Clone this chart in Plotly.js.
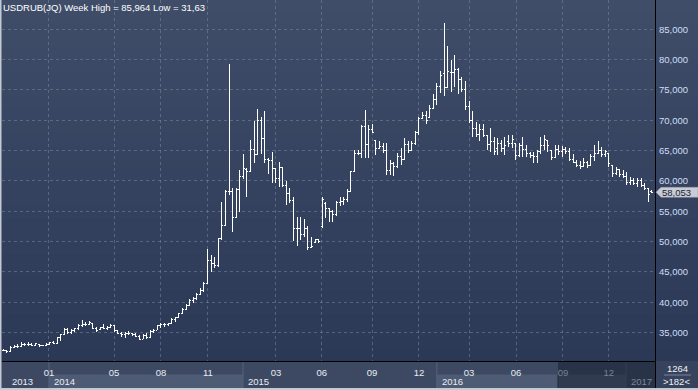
<!DOCTYPE html>
<html><head><meta charset="utf-8">
<script src="https://cdn.plot.ly/plotly-3.0.1.min.js"></script>
<style>html,body{margin:0;padding:0;background:#3d4965;overflow:hidden}#chart{width:698px;height:390px}
#chart .ohlc path, #chart .ohlclayer path{shape-rendering:crispEdges}
#chart .gridlayer path{shape-rendering:crispEdges}</style>
</head><body><div id="chart"></div>
<script>
// ---- data (weekly bars) ----
const openP = [32.05,32.00,31.85,32.60,32.70,32.75,33.00,32.95,33.10,32.90,33.10,32.80,32.90,33.05,33.40,33.20,34.20,34.60,35.50,35.00,
35.40,35.60,36.20,36.40,36.30,36.50,35.70,35.45,35.85,35.70,35.90,36.10,35.40,34.90,34.60,34.80,34.90,34.60,34.30,33.90,
34.50,34.10,35.20,35.40,36.10,36.30,36.40,36.50,37.20,37.50,38.10,38.80,39.50,40.20,40.60,41.30,42.00,43.10,46.80,46.30,
46.00,50.50,52.70,58.30,58.20,54.00,58.50,60.70,61.80,61.60,65.20,64.40,70.00,67.00,63.60,63.30,62.00,60.40,62.20,59.20,
58.00,56.70,52.20,52.20,51.10,52.20,49.00,49.80,50.30,52.50,56.30,55.40,55.00,54.40,56.50,56.60,56.90,58.30,61.60,64.60,
64.50,68.90,66.00,68.40,66.60,65.30,65.60,65.00,61.70,62.80,62.30,64.00,63.60,66.00,65.00,66.20,67.90,70.30,70.80,70.40,
72.00,73.50,75.60,77.70,75.40,77.90,77.80,78.40,76.80,75.10,72.30,70.00,68.60,67.70,68.40,67.50,66.00,66.50,65.40,66.20,
65.30,66.50,66.10,66.10,64.20,65.80,65.10,64.50,64.20,64.00,64.90,65.90,66.70,65.00,63.90,65.20,64.90,65.10,64.80,63.60,
63.10,62.60,62.40,63.00,62.50,64.00,64.60,65.00,64.40,64.50,62.60,61.30,61.80,61.10,60.80,59.80,60.10,59.60,60.00,59.30,
58.80,58.30];
const highP = [32.20,32.10,32.77,32.94,33.05,33.49,33.32,33.49,33.21,33.32,33.15,32.94,33.21,33.49,33.60,34.31,34.75,35.69,35.69,35.52,
35.69,36.40,37.06,36.79,36.95,36.51,35.96,35.96,36.35,36.07,36.35,36.24,35.41,35.14,35.14,35.25,34.97,34.86,34.59,34.70,
34.86,35.41,35.52,36.24,36.62,36.51,36.62,37.34,37.61,38.27,38.99,39.70,40.47,40.80,41.57,42.29,43.30,48.80,47.80,47.50,
50.60,56.60,58.50,79.20,58.80,58.80,61.80,64.50,62.10,66.70,69.90,71.90,70.60,71.50,63.70,64.70,62.10,63.10,62.30,60.00,
58.90,57.40,54.10,54.10,53.70,52.50,50.80,50.50,50.50,57.40,56.60,55.50,55.20,56.70,57.30,57.40,58.60,61.70,65.10,65.10,
69.30,71.70,69.30,69.40,66.80,66.60,66.20,66.20,63.50,63.10,64.60,65.50,67.10,66.60,66.60,68.30,70.50,71.30,71.50,72.50,
74.30,76.10,78.10,85.964,82.20,79.90,80.80,78.60,77.20,76.40,73.10,71.50,69.70,69.40,69.40,67.60,68.70,67.30,67.00,66.70,
67.30,67.60,67.50,66.20,66.20,67.30,65.90,64.80,64.80,65.10,67.30,67.60,66.80,65.10,65.90,65.90,65.75,65.60,65.40,64.50,
63.40,63.20,63.70,63.20,64.50,65.90,66.50,65.60,65.10,64.54,62.60,62.30,61.80,61.80,61.50,60.70,60.40,60.40,60.40,59.60,
58.80,58.50];
const lowP = [31.90,31.63,31.80,32.39,32.50,32.66,32.83,32.83,32.83,32.88,32.66,32.75,32.85,32.94,33.10,33.10,33.65,34.59,34.75,34.70,
35.14,35.41,35.96,36.07,36.24,35.52,35.14,35.41,35.52,35.41,35.69,35.14,34.75,34.31,34.04,34.59,34.42,34.20,33.76,33.87,
33.87,34.05,34.86,35.35,35.69,35.85,36.07,36.45,36.79,37.34,38.05,38.70,39.37,39.92,40.40,41.19,41.70,43.00,45.00,45.60,
45.80,50.20,52.60,57.70,51.60,53.80,54.90,60.30,57.40,61.50,63.00,64.30,64.40,63.00,61.20,59.60,59.60,59.00,59.00,56.10,
56.30,50.10,49.30,50.25,50.80,48.60,48.87,49.70,49.70,52.20,53.80,53.30,53.30,54.20,55.90,56.00,56.60,58.10,61.40,64.20,
63.80,63.80,63.80,67.90,64.30,65.20,64.60,61.00,61.00,60.75,62.10,62.70,63.50,64.60,64.90,65.97,67.60,70.20,69.40,70.30,
71.90,72.50,74.50,74.00,75.30,74.70,75.50,74.40,74.70,71.70,69.50,67.20,67.30,66.50,67.20,65.15,64.80,64.30,64.30,64.80,
64.30,65.60,65.40,63.40,64.00,64.00,64.00,63.70,62.90,62.90,64.50,65.10,64.80,63.40,63.70,64.30,64.00,64.50,63.20,62.90,
62.30,61.90,62.30,62.10,62.40,63.20,64.50,64.00,64.00,62.34,60.70,61.00,60.70,60.40,59.30,59.30,59.30,59.05,59.05,58.50,
56.57,57.95];
const closeP = [32.00,31.85,32.60,32.70,32.75,33.00,32.95,33.10,32.90,33.15,32.80,32.90,33.05,33.40,33.20,34.20,34.60,35.50,35.00,35.40,
35.60,36.20,36.40,36.30,36.60,35.70,35.40,35.85,35.70,35.90,36.10,35.40,34.90,34.60,34.80,34.90,34.60,34.30,33.90,34.50,
34.10,35.20,35.40,36.10,36.30,36.40,36.50,37.20,37.50,38.10,38.80,39.50,40.20,40.60,41.30,42.00,43.10,46.80,46.30,46.00,
50.50,52.70,58.30,58.20,54.00,58.50,60.70,62.00,61.50,65.20,64.40,70.00,67.00,63.60,63.30,62.00,60.40,62.20,59.20,58.00,
56.70,52.20,52.20,51.10,52.20,49.00,49.20,50.40,50.00,57.00,55.40,55.00,54.40,56.50,56.60,56.90,58.30,61.50,64.60,64.50,
68.90,66.00,68.40,68.00,65.30,65.60,65.00,61.70,62.80,62.30,64.00,63.60,66.00,65.00,66.20,67.90,70.30,70.80,70.00,72.00,
73.50,75.60,77.40,75.40,78.00,77.80,78.40,76.80,75.10,72.30,70.00,68.60,67.70,68.40,67.50,66.00,66.50,64.90,66.20,65.30,
65.90,66.10,66.90,64.20,65.80,65.10,64.50,64.20,64.00,64.90,65.90,66.80,65.90,63.90,65.20,64.90,65.10,64.80,63.60,63.10,
62.60,62.40,63.00,62.50,64.00,64.60,65.00,64.40,64.80,62.80,61.30,61.80,61.10,60.80,59.80,60.10,59.60,60.00,59.30,58.80,
57.80,58.053];
const weekIdx = openP.map((_, i) => i);

const monthTickIdx  = [12.75, 30.9, 44.0, 57.1, 76.1, 88.9, 102.9, 116.0, 130.0, 143.1, 156.2, 169.0];
const monthTickText = ['01','05','08','11','03','06','09','12','03','06','09','12'];
const yearStartIdx  = [-0.36, 12.75, 66.9, 121.0, 173.8];
const yearLabels    = ['2013','2014','2015','2016','2017'];
const priceTicks    = [35, 40, 45, 50, 55, 60, 65, 70, 75, 80, 85];
const priceTickText = ['35,000','40,000','45,000','50,000','55,000','60,000','65,000','70,000','75,000','80,000','85,000'];
const lastPriceText = '58,053';
const titleText = 'USDRUB(JQ) Week High = 85,964 Low = 31,63';
const cornerTop = '1264', cornerBottom = '>182<';

// ---- layout geometry ----
const W = 698, H = 390, PL = 2, PR = 655, PT = 0, PB = 361;
const XR = [-0.363, 181.88], YR = [30.30, 89.83];
const FONT = 'Liberation Sans, Arial, sans-serif';
const fx = p => (p - PL) / (PR - PL);
const fy = p => (PB - p) / (PB - PT);
const ix = i => (i - XR[0]) / (XR[1] - XR[0]);
const overlayIdx = 154.8;

const shapes = [];
// background gradient (plot + right panel)
const N = 30;
for (let k = 0; k < N; k++) {
  const t = (k + 0.5) / N;
  const c = [63 + (43 - 63) * t, 77 + (56 - 77) * t, 105 + (86 - 105) * t].map(Math.round);
  shapes.push({type:'rect', xref:'paper', yref:'paper', layer:'below',
    x0: fx(0), x1: fx(W), y0: fy(PB * k / N), y1: fy(PB * (k + 1) / N),
    fillcolor:`rgb(${c})`, line:{width:0}});
}
// bottom axis band
shapes.push({type:'rect', xref:'paper', yref:'paper', layer:'below', x0:fx(0), x1:fx(PR), y0:fy(PB), y1:fy(H), fillcolor:'rgb(61,73,99)', line:{width:0}});
// lighter year cells (2014, 2016)
[[1,2],[3,4]].forEach(([a,b]) => shapes.push({type:'rect', xref:'paper', yref:'paper', layer:'below',
  x0: ix(yearStartIdx[a]), x1: ix(yearStartIdx[b]), y0: fy(374.5), y1: fy(388), fillcolor:'rgb(78,91,116)', line:{width:0}}));
// year separators
yearStartIdx.slice(1).forEach(v => shapes.push({type:'line', xref:'paper', yref:'paper', layer:'below',
  x0: ix(v), x1: ix(v), y0: fy(362), y1: fy(388), line:{color:'rgb(86,99,124)', width:1}}));
// dim overlay at right of axis band
shapes.push({type:'rect', xref:'paper', yref:'paper', layer:'below', x0: ix(overlayIdx), x1: fx(PR), y0: fy(PB), y1: fy(388), fillcolor:'rgba(24,32,50,0.55)', line:{width:0}});
shapes.push({type:'line', xref:'paper', yref:'paper', layer:'below', x0: ix(overlayIdx), x1: ix(overlayIdx), y0: fy(375), y1: fy(388), line:{color:'rgb(35,43,62)', width:1}});
// right panel bottom
shapes.push({type:'rect', xref:'paper', yref:'paper', layer:'below', x0: fx(PR), x1: fx(W), y0: fy(PB), y1: fy(388), fillcolor:'rgb(55,66,92)', line:{width:0}});
shapes.push({type:'line', xref:'paper', yref:'paper', x0: fx(664), x1: fx(691), y0: fy(375), y1: fy(375), line:{color:'rgb(120,132,155)', width:1}});
// frame lines
shapes.push({type:'line', xref:'paper', yref:'paper', x0: fx(PR+0.5), x1: fx(PR+0.5), y0: fy(0), y1: fy(388), line:{color:'#000000', width:1}});
shapes.push({type:'line', xref:'paper', yref:'paper', x0: fx(PL), x1: fx(PR), y0: fy(PB+0.5), y1: fy(PB+0.5), line:{color:'#000000', width:1}});
shapes.push({type:'rect', xref:'paper', yref:'paper', x0: fx(0), x1: fx(1.5), y0: fy(0), y1: fy(H), fillcolor:'rgb(196,202,212)', line:{width:0}});
shapes.push({type:'rect', xref:'paper', yref:'paper', x0: fx(0), x1: fx(W), y0: fy(388), y1: fy(H), fillcolor:'rgb(196,202,212)', line:{width:0}});
// last price tag
const tagY = 192.3;
shapes.push({type:'path', xref:'paper', yref:'paper', fillcolor:'rgb(200,204,212)', line:{color:'rgb(150,156,168)', width:0.5},
  path:`M ${fx(656)} ${fy(tagY)} L ${fx(661)} ${fy(tagY-5)} L ${fx(698)} ${fy(tagY-5)} L ${fx(698)} ${fy(tagY+5)} L ${fx(661)} ${fy(tagY+5)} Z`});

const annotations = [];
yearLabels.forEach((t, k) => annotations.push({xref:'paper', yref:'paper', x: k === 0 ? fx(10) : ix(yearStartIdx[k]) + 3/(PR-PL), y: fy(381.5),
  xanchor:'left', yanchor:'middle', showarrow:false, text:t,
  font:{family:FONT, size:9.5, color: k === 4 ? 'rgb(125,134,152)' : 'rgb(232,237,245)'}}));
annotations.push({xref:'paper', yref:'paper', x: fx(677.5), y: fy(368), xanchor:'center', yanchor:'middle', showarrow:false, text:cornerTop, font:{family:FONT, size:9.5, color:'#eef2f8'}});
annotations.push({xref:'paper', yref:'paper', x: fx(676), y: fy(381.5), xanchor:'center', yanchor:'middle', showarrow:false, text:cornerBottom, font:{family:FONT, size:9.5, color:'#eef2f8'}});
annotations.push({xref:'paper', yref:'paper', x: fx(659.5), y: fy(tagY), xanchor:'left', yanchor:'middle', showarrow:false, text:lastPriceText, font:{family:FONT, size:9.5, color:'#1c2336'}});

const tickText = monthTickText.map((t, k) => monthTickIdx[k] > overlayIdx ? `<span style="color:rgb(120,130,150)">${t}</span>` : t);

const trace = {
  type:'ohlc', x: weekIdx, open: openP, high: highP, low: lowP, close: closeP,
  increasing:{line:{color:'#ffffff', width:1}}, decreasing:{line:{color:'#ffffff', width:1}},
  tickwidth:0.42, hoverinfo:'skip', showlegend:false
};

const layout = {
  width:W, height:H, margin:{l:PL, r:W-PR, t:PT, b:H-PB, pad:0},
  paper_bgcolor:'rgb(61,73,99)', plot_bgcolor:'rgba(0,0,0,0)',
  font:{family:FONT, size:9.5, color:'#e6ecf5'},
  title:{text:titleText, x:3/W, xref:'container', xanchor:'left', y:1-7.5/H, yref:'container', yanchor:'middle',
    font:{family:FONT, size:9.5, color:'#ffffff'}},
  xaxis:{range:XR, type:'linear', tickmode:'array', tickvals:monthTickIdx, ticktext:tickText,
    showgrid:true, gridcolor:'rgba(125,140,170,0.5)', griddash:'3px,3px', gridwidth:1,
    zeroline:false, showline:false, ticks:'', ticklabelstandoff:4, tickfont:{family:FONT, size:9.5, color:'rgb(232,237,245)'},
    rangeslider:{visible:false}, fixedrange:true},
  yaxis:{range:YR, side:'right', tickmode:'array', tickvals:priceTicks, ticktext:priceTickText,
    showgrid:true, gridcolor:'rgba(125,140,170,0.5)', griddash:'3px,3px', gridwidth:1,
    zeroline:false, showline:false, ticks:'', ticklabelstandoff:3, tickfont:{family:FONT, size:9.5, color:'rgb(205,222,248)'}, fixedrange:true},
  shapes, annotations, showlegend:false, dragmode:false
};

Plotly.newPlot('chart', [trace], layout, {staticPlot:true, displayModeBar:false});
</script></body></html>
